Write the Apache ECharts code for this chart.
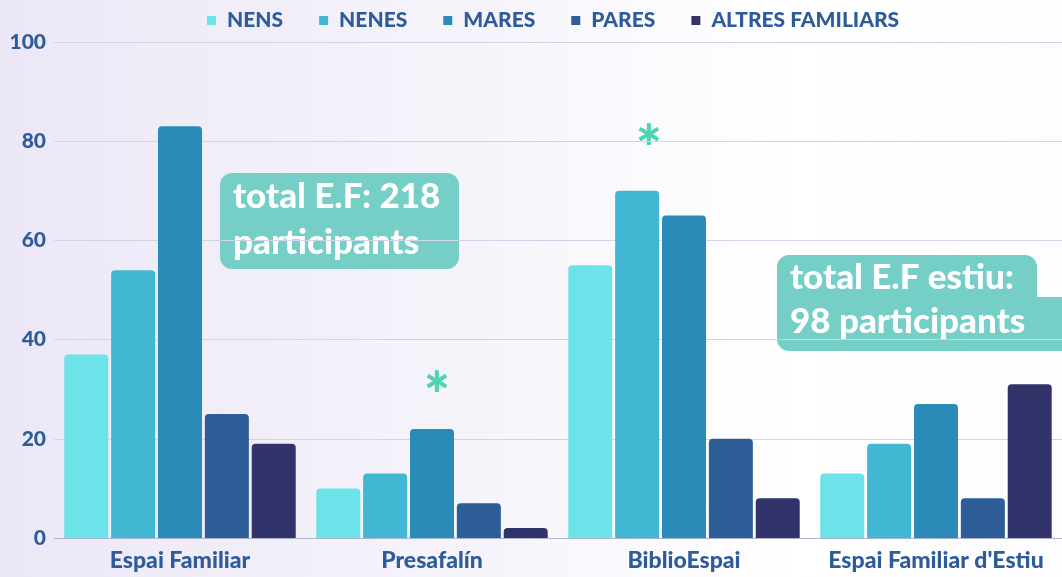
<!DOCTYPE html>
<html>
<head>
<meta charset="utf-8">
<script src="https://cdn.jsdelivr.net/npm/echarts@6/dist/echarts.min.js"></script>
<style>
  html, body { margin: 0; padding: 0; }
  #chart { width: 1062px; height: 577px; background: linear-gradient(90deg, #ece7f6 0%, #f6f4fb 45%, #ffffff 75%, #fdfdff 100%); }
</style>
</head>
<body>
<div id="chart"></div>
<script>
// categories and series
var categories = ['Espai Familiar', 'Presafalín', 'BiblioEspai', "Espai Familiar d'Estiu"];
var seriesNames = ['NENS', 'NENES', 'MARES', 'PARES', 'ALTRES FAMILIARS'];
var nens = [37, 10, 55, 13];
var nenes = [54, 13, 70, 19];
var mares = [83, 22, 65, 27];
var pares = [25, 7, 20, 8];
var altres = [19, 2, 8, 31];
var colors = ['#6ce3e8', '#42b7d4', '#2b8bb8', '#2d5e98', '#33336b'];

var myChart = echarts.init(document.getElementById('chart'));

var allData = [nens, nenes, mares, pares, altres];
var series = allData.map(function (d, i) {
  return {
    name: seriesNames[i],
    type: 'bar',
    barWidth: 44,
    barGap: '6.5%',
    data: d,
    itemStyle: { color: colors[i], borderRadius: [4, 4, 0, 0] }
  };
});

var txtColor = '#2e5c9a';
var boxColor = '#76cfc6';
var fam = 'Lato';

var option = {
  backgroundColor: 'transparent',
  color: colors,
  legend: {
    top: 5,
    left: 202,
    itemWidth: 9,
    itemHeight: 9,
    itemGap: 36,
    icon: 'rect',
    data: seriesNames,
    textStyle: {
      fontFamily: fam,
      fontWeight: 900,
      fontSize: 21,
      color: txtColor,
      padding: [0, 0, 0, 6]
    }
  },
  grid: {
    left: 54,
    width: 1011,
    top: 42,
    bottom: 39,
    containLabel: false
  },
  xAxis: {
    type: 'category',
    data: categories,
    axisTick: { show: false },
    axisLine: { lineStyle: { color: '#a9b4d0', width: 1 } },
    axisLabel: {
      interval: 0,
      hideOverlap: false,
      margin: 11,
      fontFamily: fam,
      fontWeight: 900,
      fontSize: 23,
      color: txtColor
    }
  },
  yAxis: {
    type: 'value',
    min: 0,
    max: 100,
    interval: 20,
    axisLine: { show: false },
    axisTick: { show: false },
    splitLine: { lineStyle: { color: '#cdd6e8', width: 1 } },
    axisLabel: {
      margin: 8,
      fontFamily: fam,
      fontWeight: 900,
      fontSize: 21,
      color: txtColor
    }
  },
  graphic: [
    {
      type: 'rect',
      shape: { x: 220, y: 173, width: 239, height: 96, r: 12 },
      style: { fill: boxColor }
    },
    {
      type: 'text',
      x: 233, y: 174,
      style: {
        text: 'total E.F: 218\nparticipants',
        fill: '#ffffff',
        font: '900 35px ' + fam,
        lineHeight: 46
      }
    },
    {
      type: 'rect',
      shape: { x: 777, y: 255, width: 260, height: 96, r: 12 },
      style: { fill: boxColor }
    },
    {
      type: 'rect',
      shape: { x: 1020, y: 297, width: 50, height: 54, r: [12, 0, 0, 0] },
      style: { fill: boxColor }
    },
    {
      type: 'text',
      x: 790, y: 256,
      style: {
        text: 'total E.F estiu:\n98 participants',
        fill: '#ffffff',
        font: '900 35px ' + fam,
        lineHeight: 44
      }
    },
    {
      type: 'text',
      x: 437, y: 398,
      style: { text: '*', fill: '#4dd4b0', font: '900 62px ' + fam, align: 'center', verticalAlign: 'middle' }
    },
    {
      type: 'text',
      x: 649, y: 151,
      style: { text: '*', fill: '#4dd4b0', font: '900 62px ' + fam, align: 'center', verticalAlign: 'middle' }
    }
  ],
  series: series
};

myChart.setOption(option);
</script>
</body>
</html>
